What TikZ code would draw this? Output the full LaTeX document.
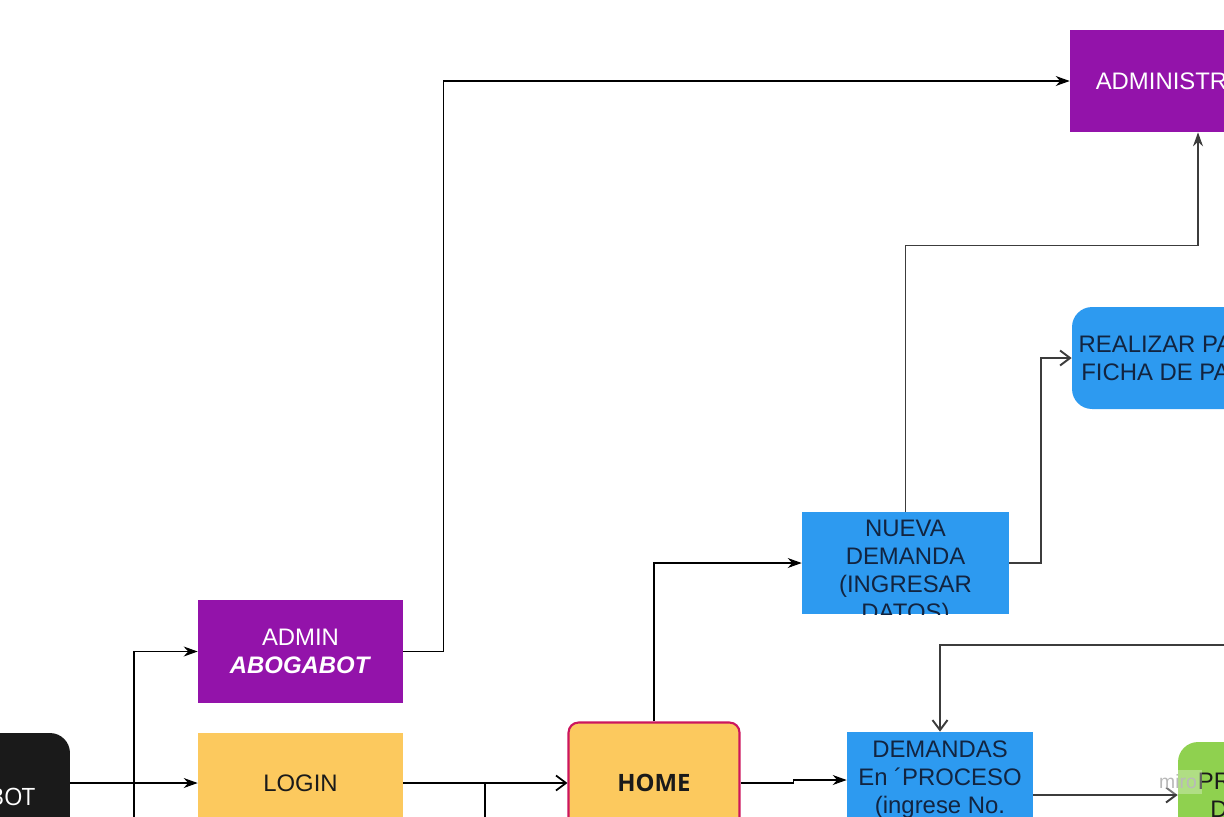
\documentclass[tikz,border=0pt]{standalone}
\usepackage{fontspec}
\setmainfont{Liberation Sans}
\newfontfamily\opensans{Open Sans}
\usepackage{tikz}
\usetikzlibrary{arrows.meta, positioning, calc}
\definecolor{darkpurple}{RGB}{147,19,170}
\definecolor{medblue}{RGB}{45,154,240}
\definecolor{softyellow}{RGB}{252,201,94}
\definecolor{lightgreen}{RGB}{143,209,79}
\definecolor{nearblack}{RGB}{26,26,26}
\definecolor{crimson}{RGB}{204,22,94}
\definecolor{darkgray}{RGB}{60,60,60}
\definecolor{inkblue}{RGB}{18,36,64}

\begin{document}
\begin{tikzpicture}[
    x=0.02cm, y=-0.02cm,
    box/.style={rectangle, minimum width=4.1cm, minimum height=2.06cm, inner sep=2pt, align=center, font=\fontsize{13.6}{15.9}\selectfont},
    purplebox/.style={box, fill=darkpurple, text=white},
    yellowbox/.style={box, fill=softyellow, text=nearblack},
    bluebox/.style={box, fill=medblue, text=inkblue},
    boxtext/.style={box, minimum width=0pt, minimum height=0pt},
    thinarrow/.style={-{Stealth[length=0.28cm, width=0.2cm]}, line width=0.6pt, color=black},
    midarrow/.style={-{Stealth[length=0.28cm, width=0.2cm]}, line width=0.9pt, color=darkgray},
    openarrow/.style={-{Straight Barb[length=0.2cm, width=0.3cm]}, line width=1.1pt, color=darkgray},
    homearrow/.style={-{Straight Barb[length=0.2cm, width=0.3cm]}, line width=1pt, color=black}
]
\useasboundingbox (0,0) rectangle (1224,816);
\clip (0,0) rectangle (1224,816);

\node[rectangle, rounded corners=0.4cm, fill=nearblack, text=white, minimum width=3.96cm, minimum height=2.56cm, font=\opensans\fontsize{13.6}{16}\selectfont] (start) at (-29,797) {ABOGABOT};
\node[purplebox] (admin) at (300.5,651.5) {ADMIN\\\textbf{\textit{ABOGABOT}}};
\node[yellowbox, minimum height=2cm] (login) at (300.5,783) {LOGIN};
\node[yellowbox, rounded corners=0.2cm, draw=crimson, line width=1.2pt, minimum width=3.42cm, minimum height=2.42cm, font=\opensans\bfseries\fontsize{13.6}{16}\selectfont] (home) at (654,783) {HOME};

% nueva demanda, text runs past the box
\node[bluebox, minimum width=4.14cm, minimum height=2.04cm] (nueva) at (905.5,563) {};
\begin{scope}
\clip (nueva.south west) rectangle (nueva.north east);
\node[boxtext, text=inkblue] (nuevatext) at (905.5,573) {NUEVA\\DEMANDA\\(INGRESAR\\DATOS)};
\end{scope}

\node[bluebox, minimum width=3.72cm, minimum height=2.52cm] (demandas) at (940,795) {};
\node[boxtext, text=inkblue] (demandastext) at (940,780) {DEMANDAS\\En ´PROCESO\\(ingrese No.};

\node[purplebox, minimum width=5.04cm, minimum height=2.04cm] (administr) at (1196,81) {ADMINISTRADOR};
\node[bluebox, rounded corners=0.4cm, minimum width=4.08cm, minimum height=2.04cm] (realizar) at (1174,358) {REALIZAR PAGO\\FICHA DE PAGO};
\node[box, fill=lightgreen, text=nearblack, rounded corners=0.4cm, minimum width=3.68cm, minimum height=2.12cm] (proceso) at (1270,795) {PRESENTAR\\DEMANDA};

\coordinate (adminsrc) at (134,840);
\coordinate (homesrc) at (485,840);
\coordinate (backsrc) at (1240,645);

\draw[thinarrow] (start.east |- login.west) -- (login.west);
\draw[thinarrow] (adminsrc) |- (admin.west);
\draw[thinarrow] (admin.east) -- ++(40,0) |- (administr.west);
\draw[homearrow] (login.east) -- (home.west);
\draw[line width=1pt] (homesrc) -- (homesrc |- login.east);
\draw[thinarrow] (home.north) |- (nueva.west);
\draw[midarrow] (nueva.north) -- ++(0,-266) -| ($(administr.south)+(2,0)$);
\draw[openarrow] (nueva.east) -- ++(32,0) |- (realizar.west);
\draw[thinarrow] (home.east) -- ++(53,0) -- ++(0,-3) -- ($(demandas.west)+(0,-15)$);
\draw[openarrow] (backsrc) -| (demandas.north);
\draw[openarrow] (demandas.east) -- (proceso.west);

\node[font=\fontsize{11}{13}\selectfont, text=gray!55, fill=white, fill opacity=0.3, text opacity=1, inner sep=3pt] (miro) at (1178,782) {miro};
\end{tikzpicture}
\end{document}
